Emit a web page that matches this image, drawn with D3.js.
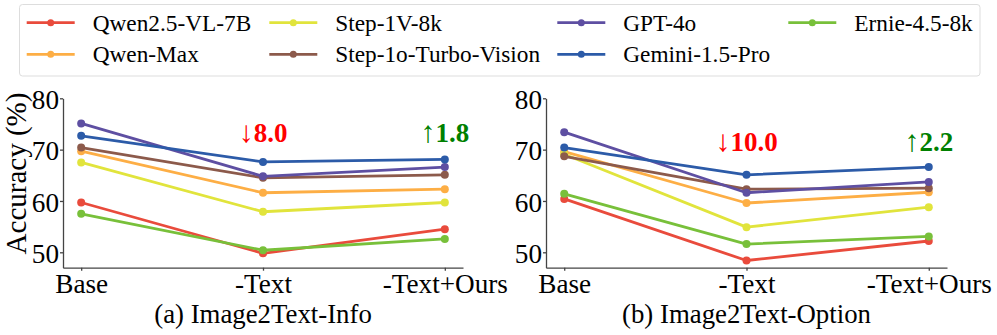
<!DOCTYPE html>
<html>
<head>
<meta charset="utf-8">
<script src="https://cdn.jsdelivr.net/npm/d3@7"></script>
<style>
  body { margin: 0; background: #fff; }
</style>
</head>
<body>
<svg id="drawing_region"></svg>
<script>
// ---- data ----
const categories = ["Base", "-Text", "-Text+Ours"];
const models = ["Qwen2.5-VL-7B", "Qwen-Max", "Step-1V-8k", "Step-1o-Turbo-Vision", "GPT-4o", "Gemini-1.5-Pro", "Ernie-4.5-8k"];
const colors = ["#e94b3c", "#fdae45", "#e1e43c", "#8c5a4b", "#5e4fa2", "#2c5ba8", "#78c03a"];

const infoValues = [
    [59.7, 49.8, 54.5],
    [69.7, 61.6, 62.3],
    [67.5, 57.9, 59.7],
    [70.4, 64.5, 65.1],
    [75.1, 64.8, 66.6],
    [72.7, 67.6, 68.1],
    [57.5, 50.4, 52.6]
];
const optionValues = [
    [60.4, 48.4, 52.2],
    [69.6, 59.6, 61.7],
    [69.1, 54.9, 58.8],
    [68.7, 62.3, 62.5],
    [73.4, 61.6, 63.7],
    [70.4, 65.1, 66.6],
    [61.4, 51.6, 53.1]
];
const yTicks = [50, 60, 70, 80];
const panelTitles = ["(a) Image2Text-Info", "(b) Image2Text-Option"];
const dropLabels = ["8.0", "10.0"];
const gainLabels = ["1.8", "2.2"];
const labelLevels = [71.4, 69.8];

// ---- layout ----
const W = 997, H = 335;
const FONT = '"Liberation Serif", "Times New Roman", Times, serif';
const svg = d3.select('#drawing_region')
    .attr('width', W).attr('height', H)
    .attr('font-family', FONT);

const panels = [
    { values: infoValues, x0: 63, x1: 463 },
    { values: optionValues, x0: 546, x1: 947 }
];
const yTop = 98.3, yBottom = 267.7;
const fontSize = 27.2;

const yscale = d3.scaleLinear().domain([47, 80]).range([yBottom, yTop]);

panels.forEach((p, pi) => {
    const xscale = d3.scalePoint().domain(categories).range([p.x0, p.x1]).padding(0.1);
    const g = svg.append('g');

    // axes
    const yAxis = g.append('g')
        .attr('transform', `translate(${p.x0},0)`)
        .call(d3.axisLeft(yscale).tickValues(yTicks).tickSize(3).tickPadding(1).tickSizeOuter(0));
    const xAxis = g.append('g')
        .attr('transform', `translate(0,${yBottom})`)
        .call(d3.axisBottom(xscale).tickSize(3).tickPadding(3.2).tickSizeOuter(0));
    [yAxis, xAxis].forEach(a => {
        a.attr('font-family', FONT).attr('font-size', fontSize);
        a.select('.domain').attr('stroke', '#444').attr('stroke-width', 1.3);
        a.selectAll('.tick line').attr('stroke', '#444').attr('stroke-width', 1.3);
        a.selectAll('text').attr('fill', '#000');
    });
    yAxis.selectAll('text').attr('dy', '0.37em');

    // lines
    const line = d3.line().x((d, i) => xscale(categories[i])).y(d => yscale(d));
    p.values.forEach((vals, si) => {
        g.append('path')
            .attr('d', line(vals))
            .attr('fill', 'none')
            .attr('stroke', colors[si])
            .attr('stroke-width', 2.8)
            .attr('stroke-linejoin', 'round');
        g.selectAll(null)
            .data(vals)
            .enter()
            .append('circle')
            .attr('cx', (d, i) => xscale(categories[i]))
            .attr('cy', d => yscale(d))
            .attr('r', 4)
            .attr('fill', colors[si]);
    });

    // annotations
    const ann = [
        { cat: categories[1], arrow: '\u2193', txt: dropLabels[pi], color: '#ff0000' },
        { cat: categories[2], arrow: '\u2191', txt: gainLabels[pi], color: '#008000' }
    ];
    ann.forEach(a => {
        const t = g.append('text')
            .attr('x', xscale(a.cat))
            .attr('y', yscale(labelLevels[pi]))
            .attr('text-anchor', 'middle')
            .attr('font-family', FONT)
            .attr('font-size', 27);
        t.append('tspan').text(a.arrow).attr('fill', a.color).attr('font-size', 30);
        t.append('tspan').text(a.txt).attr('fill', a.color).attr('font-weight', 'bold');
    });

    // panel title
    g.append('text')
        .attr('x', (p.x0 + p.x1) / 2)
        .attr('y', 323)
        .attr('text-anchor', 'middle')
        .attr('font-family', FONT)
        .attr('font-size', 26.8)
        .text(panelTitles[pi]);
});

// y label
svg.append('text')
    .attr('transform', 'rotate(-90)')
    .attr('x', -173.5)
    .attr('y', 25.5)
    .attr('text-anchor', 'middle')
    .attr('font-family', FONT)
    .attr('font-size', 29)
    .text('Accuracy (%)');

// ---- legend ----
const legend = svg.append('g');
legend.append('rect')
    .attr('x', 19.5).attr('y', 4.5)
    .attr('width', 960.5).attr('height', 71.5)
    .attr('rx', 3)
    .attr('fill', '#fff')
    .attr('stroke', '#dddddd')
    .attr('stroke-width', 1);

const colX = [26.7, 269.3, 557.3, 788.3];
const rowY = [22.7, 54.3];
models.forEach((m, i) => {
    const cx = colX[Math.floor(i / 2)];
    const cy = rowY[i % 2];
    legend.append('line')
        .attr('x1', cx).attr('x2', cx + 48)
        .attr('y1', cy).attr('y2', cy)
        .attr('stroke', colors[i]).attr('stroke-width', 2.8);
    legend.append('circle')
        .attr('cx', cx + 24).attr('cy', cy).attr('r', 3.5)
        .attr('fill', colors[i]);
    legend.append('text')
        .attr('x', cx + 66).attr('y', cy)
        .attr('dy', '0.34em')
        .attr('font-family', FONT)
        .attr('font-size', 23.3)
        .text(m);
});
</script>
</body>
</html>
